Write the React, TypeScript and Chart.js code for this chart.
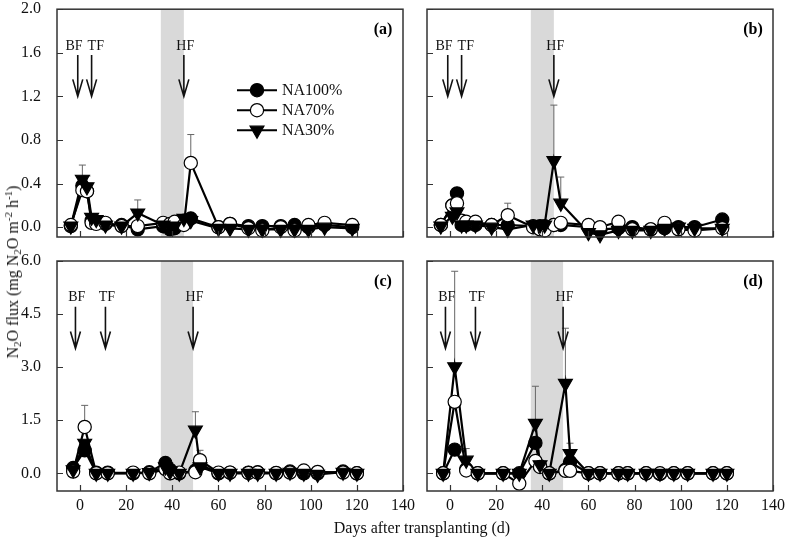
import React, { useEffect, useRef } from 'react';
import { Chart, registerables } from 'chart.js';

Chart.register(...registerables);

const FONT = '"Liberation Serif", "Times New Roman", serif';

// ---------- data ----------
const seriesNames = ['NA100%', 'NA70%', 'NA30%'];

const xTicks = [0, 20, 40, 60, 80, 100, 120, 140];
const xTickLabels = ['0', '20', '40', '60', '80', '100', '120', '140'];

const yTicksAB = [0, 0.4, 0.8, 1.2, 1.6, 2.0];
const yTickLabelsAB = ['0.0', '0.4', '0.8', '1.2', '1.6', '2.0'];
const yTicksCD = [0, 1.5, 3.0, 4.5, 6.0];
const yTickLabelsCD = ['0.0', '1.5', '3.0', '4.5', '6.0'];

const daysAB = [-4, 1, 3, 5, 7, 11, 18, 25, 36, 39, 41, 45, 48, 60, 65, 73, 79, 87, 93, 99, 106, 118];
const daysCD = [-3, 2, 7, 12, 23, 30, 37, 39, 43, 50, 52, 60, 65, 73, 77, 85, 91, 97, 103, 114, 120];

// panel (a)
const a100 = [0.01, 0.38, 0.33, 0.06, 0.05, 0.03, 0.02, -0.02, 0.01, -0.02, -0.01, 0.06, 0.08, 0.0, 0.03, 0.01, 0.01, 0.01, 0.02, 0.0, 0.02, 0.0];
const a70 = [0.02, 0.34, 0.33, 0.04, 0.03, 0.04, 0.01, 0.01, 0.04, 0.03, 0.05, 0.02, 0.59, 0.0, 0.03, -0.01, -0.03, 0.0, -0.03, 0.02, 0.04, 0.02];
const a30 = [0.01, 0.44, 0.37, 0.09, 0.07, 0.02, 0.01, 0.13, 0.02, 0.0, 0.01, 0.08, 0.06, -0.01, -0.01, -0.02, -0.02, -0.02, -0.02, -0.02, 0.0, -0.01];
const a70Err = [0, 0, 0, 0, 0, 0, 0, 0, 0, 0, 0, 0, 0.26, 0, 0, 0, 0, 0, 0, 0, 0, 0];
const a30Err = [0, 0.13, 0.1, 0, 0, 0, 0, 0.12, 0, 0, 0, 0, 0, 0, 0, 0, 0, 0, 0, 0, 0, 0];

// panel (b)
const b100 = [0.02, 0.2, 0.31, 0.02, 0.02, 0.02, 0.02, 0.02, 0.01, 0.01, 0.01, 0.02, 0.02, 0.0, -0.02, -0.01, 0.0, -0.02, -0.01, 0.0, 0.0, 0.07];
const b70 = [0.02, 0.2, 0.22, 0.06, 0.05, 0.05, 0.02, 0.11, 0.0, -0.02, -0.03, 0.02, 0.04, 0.02, 0.0, 0.05, -0.02, -0.02, 0.04, -0.02, -0.03, -0.01];
const b30 = [0.01, 0.1, 0.14, 0.02, 0.02, 0.02, 0.0, -0.02, 0.02, 0.02, 0.02, 0.61, 0.22, -0.05, -0.07, -0.03, -0.03, -0.03, -0.01, 0.0, -0.01, -0.01];
const b70Err = [0, 0, 0, 0, 0, 0, 0, 0.11, 0, 0, 0, 0, 0, 0, 0, 0, 0, 0, 0, 0, 0, 0];
const b30Err = [0, 0, 0, 0, 0, 0, 0, 0, 0, 0, 0, 0.51, 0.24, 0, 0, 0, 0, 0, 0, 0, 0, 0];

// panel (c)
const c100 = [0.15, 0.65, 0.02, 0.02, 0.0, 0.03, 0.29, 0.1, 0.0, 0.08, 0.25, 0.0, 0.02, 0.02, 0.03, 0.0, 0.05, 0.0, 0.0, 0.05, 0.0];
const c70 = [0.05, 1.31, 0.0, 0.0, 0.02, 0.0, 0.12, 0.0, 0.02, 0.03, 0.37, 0.02, 0.02, 0.01, 0.02, 0.01, 0.02, 0.08, 0.04, 0.02, 0.0];
const c30 = [0.1, 0.85, 0.0, 0.0, 0.0, 0.02, 0.18, 0.05, 0.0, 1.22, 0.18, 0.0, 0.0, 0.0, 0.0, 0.0, 0.03, 0.0, -0.03, 0.03, 0.0];
const c70Err = [0, 0.61, 0, 0, 0, 0, 0, 0, 0, 0, 0.28, 0, 0, 0, 0, 0, 0, 0, 0, 0, 0];
const c30Err = [0, 0, 0, 0, 0, 0, 0, 0, 0, 0.52, 0, 0, 0, 0, 0, 0, 0, 0, 0, 0, 0];

// panel (d)
const d100 = [0.0, 0.67, 0.12, 0.0, 0.0, 0.0, 0.86, 0.2, 0.0, 0.1, 0.32, 0.0, 0.0, 0.0, 0.0, 0.0, -0.02, 0.0, 0.0, 0.0, 0.0];
const d70 = [0.0, 2.02, 0.08, 0.0, 0.0, -0.29, 0.35, 0.18, 0.0, 0.07, 0.07, 0.0, 0.0, 0.0, 0.0, 0.0, 0.0, 0.0, 0.0, 0.0, 0.0];
const d30 = [0.0, 3.01, 0.37, 0.0, 0.0, 0.0, 1.41, 0.24, 0.0, 2.54, 0.56, 0.0, 0.0, 0.0, 0.0, 0.0, 0.0, 0.0, 0.0, 0.0, 0.0];
const d30Err = [0, 2.7, 0.33, 0, 0, 0, 1.05, 0, 0, 1.56, 0.29, 0, 0, 0, 0, 0, 0, 0, 0, 0, 0];

// fertilization annotations
const arrowLabels = ['BF', 'TF', 'HF'];
const arrowDaysAB = [-1, 5, 45];
const arrowLabelDaysAB = [-2.6, 6.8, 45.6];
const arrowYAB = [1.655, 1.58, 1.2]; // label, shaft top, tip
const arrowDaysCD = [-2, 11, 49];
const arrowLabelDaysCD = [-1.4, 11.6, 49.6];
const arrowYCD = [4.97, 4.71, 3.53];
const shadeAB = [35, 45];
const shadeCD = [35, 49];

// ---------- rendering ----------
type Panel = {
  tag: string;
  days: number[];
  vals: number[][];
  errs: (number[] | null)[];
  yMin: number;
  yMax: number;
  yTicks: number[];
  yLabels: string[];
  showY: boolean;
  showX: boolean;
  arrowDays: number[];
  arrowLabelDays: number[];
  arrowY: number[];
  shade: number[];
  legend: boolean;
  box: { left: number; top: number; w: number; h: number; padTop: number; padRight: number; yW: number; xH: number };
};

const panels: Panel[] = [
  {
    tag: '(a)', days: daysAB, vals: [a100, a70, a30], errs: [null, a70Err, a30Err],
    yMin: -0.09, yMax: 2.0, yTicks: yTicksAB, yLabels: yTickLabelsAB, showY: true, showX: false,
    arrowDays: arrowDaysAB, arrowLabelDays: arrowLabelDaysAB, arrowY: arrowYAB, shade: shadeAB, legend: true,
    box: { left: 0, top: 0, w: 425, h: 250, padTop: 7, padRight: 22, yW: 57, xH: 13 },
  },
  {
    tag: '(b)', days: daysAB, vals: [b100, b70, b30], errs: [null, b70Err, b30Err],
    yMin: -0.09, yMax: 2.0, yTicks: yTicksAB, yLabels: yTickLabelsAB, showY: false, showX: false,
    arrowDays: arrowDaysAB, arrowLabelDays: arrowLabelDaysAB, arrowY: arrowYAB, shade: shadeAB, legend: false,
    box: { left: 410, top: 0, w: 377, h: 250, padTop: 7, padRight: 14, yW: 17, xH: 13 },
  },
  {
    tag: '(c)', days: daysCD, vals: [c100, c70, c30], errs: [null, c70Err, c30Err],
    yMin: -0.5, yMax: 6.0, yTicks: yTicksCD, yLabels: yTickLabelsCD, showY: true, showX: true,
    arrowDays: arrowDaysCD, arrowLabelDays: arrowLabelDaysCD, arrowY: arrowYCD, shade: shadeCD, legend: false,
    box: { left: 0, top: 250, w: 425, h: 291, padTop: 11, padRight: 22, yW: 57, xH: 50 },
  },
  {
    tag: '(d)', days: daysCD, vals: [d100, d70, d30], errs: [null, null, d30Err],
    yMin: -0.5, yMax: 6.0, yTicks: yTicksCD, yLabels: yTickLabelsCD, showY: false, showX: true,
    arrowDays: arrowDaysCD, arrowLabelDays: arrowLabelDaysCD, arrowY: arrowYCD, shade: shadeCD, legend: false,
    box: { left: 410, top: 250, w: 377, h: 291, padTop: 11, padRight: 14, yW: 17, xH: 50 },
  },
];

const R_CIRCLE = 6.6;
const R_TRI = 8;
const markerFill = ['#000000', '#ffffff', '#000000'];

function drawMarker(ctx: CanvasRenderingContext2D, s: number, x: number, y: number) {
  ctx.save();
  ctx.lineWidth = 1.2;
  ctx.strokeStyle = '#000';
  ctx.fillStyle = markerFill[s];
  ctx.beginPath();
  if (s < 2) {
    ctx.arc(x, y, R_CIRCLE, 0, Math.PI * 2);
  } else {
    ctx.moveTo(x, y + R_TRI);
    ctx.lineTo(x - R_TRI * 0.866, y - R_TRI / 2);
    ctx.lineTo(x + R_TRI * 0.866, y - R_TRI / 2);
    ctx.closePath();
  }
  ctx.fill();
  ctx.stroke();
  ctx.restore();
}

function makeDecor(p: Panel) {
  return {
    id: 'decor' + p.tag,
    beforeDatasetsDraw(chart: any) {
      const { ctx, chartArea: ca } = chart;
      const x = chart.scales.x;
      const y = chart.scales.y;
      ctx.save();
      const x0 = x.getPixelForValue(p.shade[0]);
      const x1 = x.getPixelForValue(p.shade[1]);
      ctx.fillStyle = '#d9d9d9';
      ctx.fillRect(x0, ca.top, x1 - x0, ca.bottom - ca.top);
      ctx.strokeStyle = '#666';
      ctx.lineWidth = 1;
      p.vals.forEach((arr, s) => {
        const e = p.errs[s];
        if (!e) return;
        arr.forEach((v, i) => {
          if (!e[i]) return;
          const px = x.getPixelForValue(p.days[i]);
          const py0 = y.getPixelForValue(v);
          const py1 = y.getPixelForValue(v + e[i]);
          ctx.beginPath();
          ctx.moveTo(px, py0);
          ctx.lineTo(px, py1);
          ctx.moveTo(px - 3.5, py1);
          ctx.lineTo(px + 3.5, py1);
          ctx.stroke();
        });
      });
      ctx.restore();
    },
    afterDatasetsDraw(chart: any) {
      const { ctx, chartArea: ca } = chart;
      const x = chart.scales.x;
      const y = chart.scales.y;
      ctx.save();
      ctx.strokeStyle = '#333';
      ctx.lineWidth = 1.5;
      ctx.strokeRect(ca.left, ca.top, ca.right - ca.left, ca.bottom - ca.top);
      ctx.lineWidth = 1.2;
      ctx.beginPath();
      p.yTicks.forEach((v) => {
        const py = Math.round(y.getPixelForValue(v)) + 0.5;
        ctx.moveTo(ca.left, py);
        ctx.lineTo(ca.left + 6, py);
      });
      xTicks.forEach((v) => {
        const px = Math.round(x.getPixelForValue(v)) + 0.5;
        ctx.moveTo(px, ca.bottom);
        ctx.lineTo(px, ca.bottom - 6);
      });
      ctx.stroke();
      ctx.strokeStyle = '#111';
      ctx.fillStyle = '#111';
      ctx.lineWidth = 1.6;
      ctx.font = '14px ' + FONT;
      ctx.textAlign = 'center';
      ctx.textBaseline = 'middle';
      p.arrowDays.forEach((d, i) => {
        const px = x.getPixelForValue(d);
        const top = y.getPixelForValue(p.arrowY[1]);
        const tip = y.getPixelForValue(p.arrowY[2]);
        ctx.beginPath();
        ctx.moveTo(px, top);
        ctx.lineTo(px, tip);
        ctx.moveTo(px - 5, tip - 17);
        ctx.lineTo(px, tip);
        ctx.lineTo(px + 5, tip - 17);
        ctx.stroke();
        ctx.fillText(arrowLabels[i], x.getPixelForValue(p.arrowLabelDays[i]), y.getPixelForValue(p.arrowY[0]));
      });
      ctx.font = 'bold 16px ' + FONT;
      ctx.fillStyle = '#000';
      ctx.fillText(p.tag, ca.right - 20, ca.top + 21);
      if (p.legend) {
        ctx.font = '16px ' + FONT;
        ctx.textAlign = 'left';
        seriesNames.forEach((name, s) => {
          const ly = ca.top + 81 + s * 20;
          ctx.strokeStyle = '#000';
          ctx.lineWidth = 2;
          ctx.beginPath();
          ctx.moveTo(ca.left + 180, ly);
          ctx.lineTo(ca.left + 220, ly);
          ctx.stroke();
          drawMarker(ctx, s, ca.left + 200, ly);
          ctx.fillStyle = '#111';
          ctx.fillText(name, ca.left + 225, ly + 1);
        });
      }
      ctx.restore();
    },
  };
}

function zeroPad(s: any) {
  s.paddingTop = 0;
  s.paddingBottom = 0;
  s.paddingLeft = 0;
  s.paddingRight = 0;
}

function buildChart(canvas: HTMLCanvasElement, p: Panel) {
  const datasets: any[] = [];
  p.vals.forEach((arr, s) => {
    datasets.push({
      label: seriesNames[s] + ' line',
      data: arr.map((v, i) => ({ x: p.days[i], y: v })),
      borderColor: '#000',
      borderWidth: 2.2,
      pointRadius: 0,
      tension: 0,
      fill: false,
      clip: false,
      order: 10 + s,
    });
  });
  p.vals.forEach((arr, s) => {
    datasets.push({
      label: seriesNames[s],
      data: arr.map((v, i) => ({ x: p.days[i], y: v })),
      showLine: false,
      pointStyle: s < 2 ? 'circle' : 'triangle',
      pointRotation: s === 2 ? 180 : 0,
      pointRadius: s < 2 ? R_CIRCLE : R_TRI,
      pointBackgroundColor: markerFill[s],
      pointBorderColor: '#000',
      pointBorderWidth: 1.2,
      clip: false,
      order: 3 - s,
    });
  });
  const tickFont = { family: FONT, size: 16 };
  return new Chart(canvas, {
    type: 'line',
    data: { datasets },
    options: {
      animation: false,
      responsive: false,
      maintainAspectRatio: false,
      events: [],
      layout: { padding: { left: 0, top: p.box.padTop, right: p.box.padRight, bottom: 0 } },
      plugins: { legend: { display: false }, tooltip: { enabled: false } },
      scales: {
        x: {
          type: 'linear',
          min: -10,
          max: 140,
          afterBuildTicks: (s: any) => {
            s.ticks = xTicks.map((v) => ({ value: v }));
          },
          afterFit: (s: any) => {
            s.height = p.box.xH;
            zeroPad(s);
          },
          ticks: {
            display: p.showX,
            autoSkip: false,
            maxRotation: 0,
            padding: -3,
            color: '#111',
            font: tickFont,
            callback: (_v: any, i: number) => xTickLabels[i],
          },
          grid: { display: false },
          border: { display: false },
        },
        y: {
          type: 'linear',
          min: p.yMin,
          max: p.yMax,
          afterBuildTicks: (s: any) => {
            s.ticks = p.yTicks.map((v) => ({ value: v }));
          },
          afterFit: (s: any) => {
            s.width = p.box.yW;
            zeroPad(s);
          },
          ticks: {
            display: p.showY,
            autoSkip: false,
            padding: 8,
            color: '#111',
            font: tickFont,
            callback: (_v: any, i: number) => p.yLabels[i],
          },
          grid: { display: false },
          border: { display: false },
        },
      },
    } as any,
    plugins: [makeDecor(p)],
  });
}

export default function App() {
  const refs = useRef<(HTMLCanvasElement | null)[]>([]);
  useEffect(() => {
    const charts = panels.map((p, i) => buildChart(refs.current[i] as HTMLCanvasElement, p));
    return () => charts.forEach((c) => c.destroy());
  }, []);
  return (
    <div style={{ position: 'absolute', left: 0, top: 0, width: 787, height: 541, background: '#fff', overflow: 'hidden', fontFamily: FONT }}>
      {panels.map((p, i) => (
        <canvas
          key={p.tag}
          ref={(el) => {
            refs.current[i] = el;
          }}
          width={p.box.w}
          height={p.box.h}
          style={{ position: 'absolute', left: p.box.left, top: p.box.top, width: p.box.w, height: p.box.h }}
        />
      ))}
      <div
        style={{
          position: 'absolute',
          left: 13,
          top: 272,
          transform: 'translate(-50%, -50%) rotate(-90deg)',
          whiteSpace: 'nowrap',
          fontSize: 16,
          lineHeight: '18px',
          color: '#111',
        }}
      >
        N<sub style={{ fontSize: 11, verticalAlign: '-3px', lineHeight: 0 }}>2</sub>O flux (mg N
        <sub style={{ fontSize: 11, verticalAlign: '-3px', lineHeight: 0 }}>2</sub>O m
        <sup style={{ fontSize: 11, verticalAlign: '6px', lineHeight: 0 }}>-2</sup> h
        <sup style={{ fontSize: 11, verticalAlign: '6px', lineHeight: 0 }}>-1</sup>)
      </div>
      <div
        style={{
          position: 'absolute',
          left: 422,
          top: 528,
          transform: 'translate(-50%, -50%)',
          whiteSpace: 'nowrap',
          fontSize: 16,
          color: '#111',
        }}
      >
        Days after transplanting (d)
      </div>
    </div>
  );
}
